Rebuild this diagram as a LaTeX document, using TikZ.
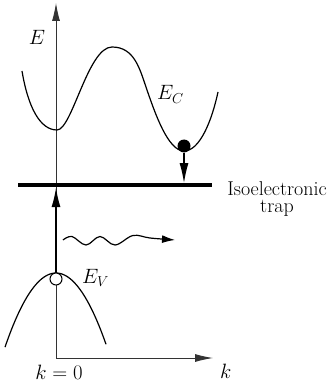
\documentclass[tikz,border=0pt]{standalone}
\usetikzlibrary{arrows.meta}
\begin{document}
\begin{tikzpicture}[x=1pt,y=-1pt,
  axis/.style={line width=0.9pt, draw=black!80, -{Latex[length=18pt,width=8pt]}},
  band/.style={line width=1.2pt},
  lbl/.style={font=\fontsize{20}{17}\selectfont, inner sep=0pt},
  bigtip/.style={-{Latex[length=20pt,width=9pt]}},
 ]
\useasboundingbox (0,0) rectangle (334,382);
% axes
\coordinate (O) at (56,358);
\coordinate (Etop) at (56,3);
\coordinate (kend) at (213,358);
\draw[axis] (O) -- (Etop);
\draw[axis] (O) -- (kend);
% conduction band
\draw[band] (22,71) .. controls (28,107) and (40,130) .. (57,130)
  .. controls (72,130) and (88,47) .. (112,47)
  .. controls (135,47) and (140,70) .. (147,90)
  .. controls (155,113) and (168,151) .. (184,151)
  .. controls (200,151) and (212,120) .. (218,92);
% valence band
\draw[band] plot[domain=-51:50, samples=60] ({56+\x}, {273+0.0285*\x*\x});
% trap level
\coordinate (tL) at (18,185);
\coordinate (tR) at (212,185);
\draw[line width=4pt] (tL) -- (tR);
% electron and hole
\node[circle, fill, inner sep=0pt, minimum size=13pt] (el) at (184,146) {};
\coordinate (dropend) at (184,183);
\draw[line width=1.2pt, bigtip] (el.south) -- (dropend);
\coordinate (riseend) at (56,187);
\draw[line width=2pt, bigtip] (56,273) -- (riseend);
\node[circle, draw, fill=white, line width=1pt, inner sep=0pt, minimum size=12pt] (hole) at (56,279) {};
% photon
\draw[line width=1.2pt, -{Latex[length=13pt,width=8pt]}] plot[smooth, tension=0.6] coordinates {(63,240) (72,236.5) (86,245) (100,236.5) (115,245) (133,235.5) (150,238) (175,240)};
% labels
\node[lbl, anchor=base] (Elbl) at (37,45) {$E$};
\node[lbl, anchor=base west] (EC) at (157,100) {$E_C$};
\node[lbl, anchor=base west] (EV) at (82,283) {$E_V$};
\node[lbl, anchor=north, align=center] (trap) at (277,181) {Isoelectronic\\trap};
\node[lbl, anchor=base] (k0) at (59,379) {$k=0$};
\node[lbl, anchor=base west] (klbl) at (220,378) {$k$};
\end{tikzpicture}
\end{document}
